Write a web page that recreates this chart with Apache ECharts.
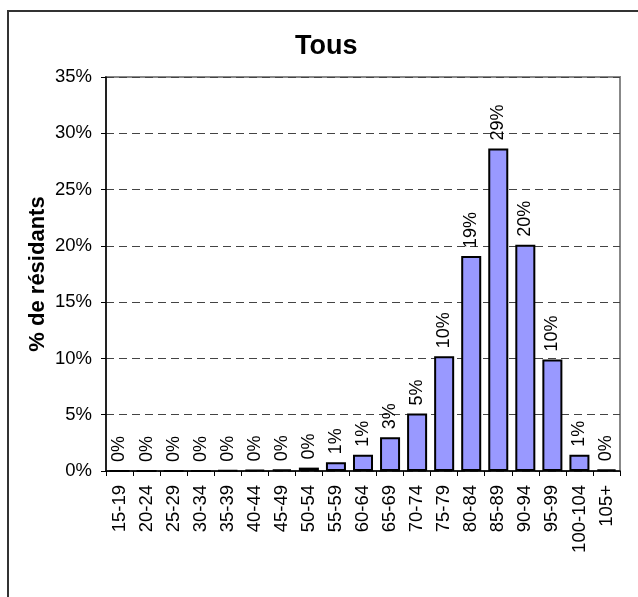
<!DOCTYPE html>
<html>
<head>
<meta charset="utf-8">
<script src="https://cdn.jsdelivr.net/npm/echarts@6/dist/echarts.min.js"></script>
<style>
  html, body { margin: 0; padding: 0; background: #fff; }
  #chart { width: 638px; height: 597px; }
</style>
</head>
<body>
<div id="chart"></div>
<script>
// age groups and share of residents (%)
var categories = ['15-19', '20-24', '25-29', '30-34', '35-39', '40-44', '45-49', '50-54', '55-59',
  '60-64', '65-69', '70-74', '75-79', '80-84', '85-89', '90-94', '95-99', '100-104', '105+']
var residents = [0, 0, 0, 0, 0.05, 0.1, 0.15, 0.3, 0.77, 1.45, 3.0, 5.1, 10.2, 19.1, 28.65, 20.1, 9.9, 1.45, 0.15]
var yTicks = [0, 5, 10, 15, 20, 25, 30, 35]

var font = 'Arial, "Liberation Sans", sans-serif'
var chart = echarts.init(document.getElementById('chart'))

chart.setOption({
  animation: false,
  backgroundColor: '#fff',
  title: {
    text: 'Tous',
    left: 290,
    top: 28,
    textStyle: { fontFamily: font, fontSize: 27, fontWeight: 'bold', color: '#000' }
  },
  graphic: [{
    type: 'rect',
    shape: { x: 8, y: 11, width: 640, height: 600 },
    style: { fill: null, stroke: '#333', lineWidth: 2 },
    silent: true
  }],
  grid: {
    left: 106,
    right: 18,
    top: 77,
    bottom: 126,
    show: true,
    borderColor: '#888',
    borderWidth: 2
  },
  xAxis: {
    type: 'category',
    data: categories,
    axisLine: { lineStyle: { color: '#000', width: 1.5 } },
    axisTick: { show: true, length: 5, lineStyle: { color: '#000' } },
    axisLabel: {
      rotate: 90,
      margin: 14,
      interval: 0,
      color: '#000',
      fontFamily: font,
      fontSize: 18.5
    }
  },
  yAxis: {
    type: 'value',
    min: yTicks[0],
    max: yTicks[yTicks.length - 1],
    interval: 5,
    name: '% de résidants',
    nameLocation: 'middle',
    nameGap: 57,
    nameMoveOverlap: false,
    nameTextStyle: { fontFamily: font, fontSize: 22, fontWeight: 'bold', color: '#000' },
    axisLine: { show: true, lineStyle: { color: '#000', width: 1.5 } },
    axisTick: { show: true, length: 5, lineStyle: { color: '#000' } },
    axisLabel: {
      margin: 14,
      color: '#000',
      fontFamily: font,
      fontSize: 18.5,
      formatter: '{value}%'
    },
    splitLine: { show: true, lineStyle: { color: '#444', width: 1, type: [8, 5] } }
  },
  series: [{
    type: 'bar',
    data: residents,
    barCategoryGap: '26%',
    itemStyle: { color: '#9999FF', borderColor: '#000', borderWidth: 2 },
    label: {
      show: true,
      position: 'top',
      distance: 8,
      rotate: 90,
      align: 'left',
      verticalAlign: 'middle',
      color: '#000',
      fontFamily: font,
      fontSize: 18,
      formatter: function (p) { return Math.round(p.value) + '%' }
    }
  }]
})
</script>
</body>
</html>
